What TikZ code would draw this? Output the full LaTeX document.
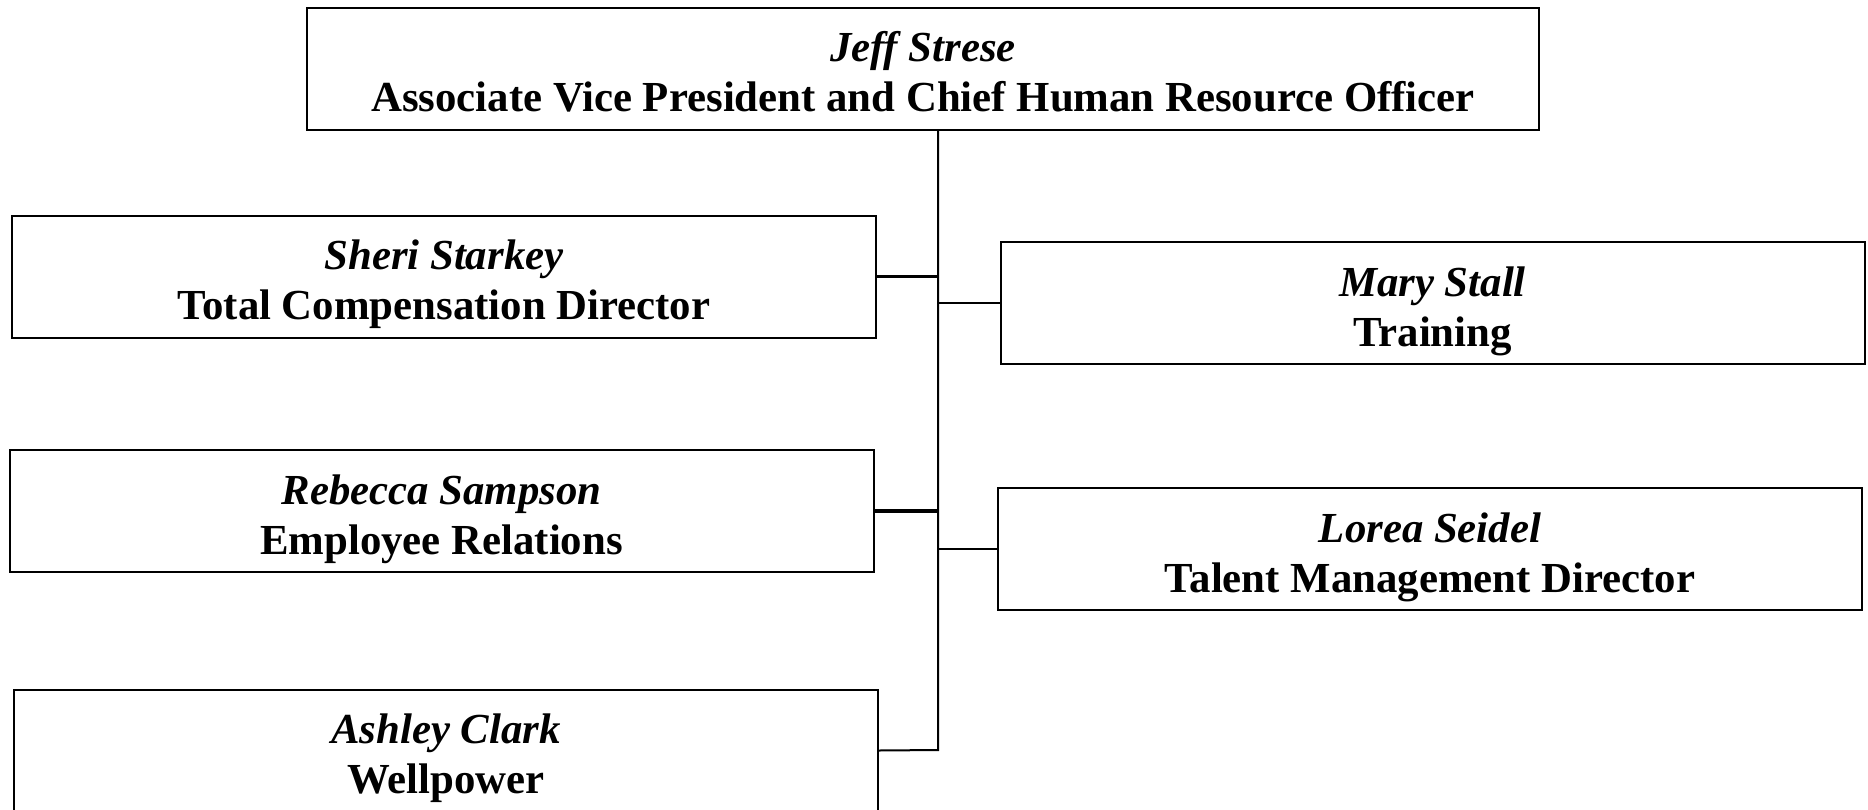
\documentclass[tikz,border=0pt]{standalone}
\usepackage{fontspec}
\setmainfont{Liberation Serif}
\newcommand{\twoline}[2]{\rule{0pt}{23pt}\textit{#1}\\#2\rule[-5pt]{0pt}{5pt}}
\begin{document}
\begin{tikzpicture}[x=0.5pt,y=-0.5pt,
  box/.style={draw=black, line width=1pt, rectangle, inner sep=0pt, align=center,
    minimum width=432pt, minimum height=61pt, font=\fontsize{21.4}{25}\selectfont\bfseries},
  link/.style={draw=black, line width=1pt},
  thicklink/.style={draw=black, line width=1.6pt}]
\useasboundingbox (0,0) rectangle (1868,809);
\node[box, minimum width=616pt] (top) at (923,68.5) {\twoline{Jeff Strese}{Associate Vice President and Chief Human Resource Officer}};
\node[box] (sheri) at (444,276.5) {\twoline{Sheri Starkey}{Total Compensation Director}};
\node[box] (mary) at (1432.5,303) {\twoline{Mary Stall}{Training}};
\node[box] (rebecca) at (441.5,511) {\twoline{Rebecca Sampson}{Employee Relations}};
\node[box] (lorea) at (1430,549) {\twoline{Lorea Seidel}{Talent Management Director}};
\node[box] (ashley) at (446,750.5) {\twoline{Ashley Clark}{Wellpower}};
\coordinate (trunktop) at (938,130);
\coordinate (trunkbot) at (938,750);
\draw[link] (trunktop) -- (trunkbot) -- (ashley.east);
\draw[thicklink] (sheri.east) -- (sheri.east -| trunktop);
\draw[thicklink] (rebecca.east) -- (rebecca.east -| trunktop);
\draw[link] (mary.west) -- (mary.west -| trunktop);
\draw[link] (lorea.west) -- (lorea.west -| trunktop);
\end{tikzpicture}
\end{document}
